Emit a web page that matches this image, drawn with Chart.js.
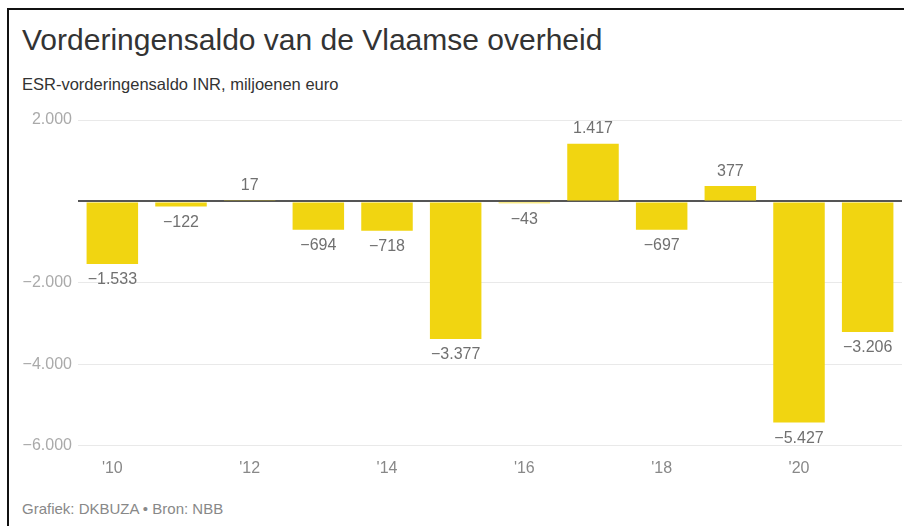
<!DOCTYPE html>
<html>
<head>
<meta charset="utf-8">
<script src="https://cdn.jsdelivr.net/npm/chart.js@4"></script>
<style>
  html, body { margin:0; padding:0; background:#fff; }
  body { width:904px; height:526px; position:relative; overflow:hidden; font-family:"Liberation Sans", Arial, sans-serif; }
  .frame { position:absolute; left:7px; top:8px; width:910px; height:530px; border:2px solid #111; box-sizing:border-box; }
  .title { position:absolute; left:22px; top:23px; font-size:30px; color:#333; white-space:nowrap; }
  .sub { position:absolute; left:22px; top:75px; font-size:16.5px; color:#333; }
  .foot { position:absolute; left:22px; top:500px; font-size:15px; color:#888; }
  .wrap { position:absolute; left:0; top:100px; width:904px; height:394px; }
</style>
</head>
<body>
<div class="frame"></div>
<div class="title">Vorderingensaldo van de Vlaamse overheid</div>
<div class="sub">ESR-vorderingensaldo INR, miljoenen euro</div>
<div class="wrap"><canvas id="c"></canvas></div>
<div class="foot">Grafiek: DKBUZA • Bron: NBB</div>
<script>
// ── DATA ─────────────────────────────────────────────
const YEARS = ['2010','2011','2012','2013','2014','2015','2016','2017','2018','2019','2020','2021'];
const SALDO = [-1533, -122, 17, -694, -718, -3377, -43, 1417, -697, 377, -5427, -3206];
const Y_TICKS = [2000, 0, -2000, -4000, -6000];

const FONT = '"Liberation Sans", Arial, sans-serif';

// ── HELPERS ──────────────────────────────────────────
function fmtNum(v) {
  const s = Math.abs(v).toString().replace(/\B(?=(\d{3})+(?!\d))/g, '.');
  return (v < 0 ? '\u2212' : '') + s;
}

// value labels above / below each bar
const valueLabels = {
  id: 'valueLabels',
  afterDatasetsDraw(chart) {
    const ctx = chart.ctx;
    const meta = chart.getDatasetMeta(0);
    ctx.save();
    ctx.font = '16px ' + FONT;
    ctx.fillStyle = '#707070';
    ctx.textAlign = 'center';
    meta.data.forEach((bar, i) => {
      const v = SALDO[i];
      if (v >= 0) {
        ctx.textBaseline = 'bottom';
        ctx.fillText(fmtNum(v), bar.x, bar.y - 7);
      } else {
        ctx.textBaseline = 'top';
        ctx.fillText(fmtNum(v), bar.x, bar.y + 8);
      }
    });
    ctx.restore();
  }
};

new Chart(document.getElementById('c'), {
  type: 'bar',
  data: {
    labels: YEARS,
    datasets: [{
      data: SALDO,
      backgroundColor: '#f1d511',
      borderWidth: 0,
      barPercentage: 0.75,
      categoryPercentage: 1
    }]
  },
  options: {
    responsive: true,
    maintainAspectRatio: false,
    animation: false,
    layout: { padding: { top: 20, right: 2, bottom: 3, left: 0 } },
    plugins: { legend: { display: false }, tooltip: { enabled: false } },
    scales: {
      x: {
        grid: { display: false, drawTicks: false },
        border: { display: false },
        ticks: {
          autoSkip: false,
          maxRotation: 0,
          padding: 13,
          color: '#888',
          font: { size: 16, family: FONT },
          callback: (v, i) => i % 2 === 0 ? "'" + YEARS[i].slice(2) : ''
        }
      },
      y: {
        min: -6000,
        max: 2000,
        afterFit: s => { s.width = 78; },
        afterBuildTicks: s => { s.ticks = Y_TICKS.map(v => ({ value: v })); },
        grid: {
          drawTicks: false,
          color: c => c.tick && c.tick.value === 0 ? '#555' : '#e9e9e9',
          lineWidth: c => c.tick && c.tick.value === 0 ? 2 : 1
        },
        border: { display: false },
        ticks: {
          padding: 6,
          color: '#aaa',
          font: { size: 16, family: FONT },
          callback: v => v === 0 ? '' : fmtNum(v)
        }
      }
    }
  },
  plugins: [valueLabels]
});
</script>
</body>
</html>
